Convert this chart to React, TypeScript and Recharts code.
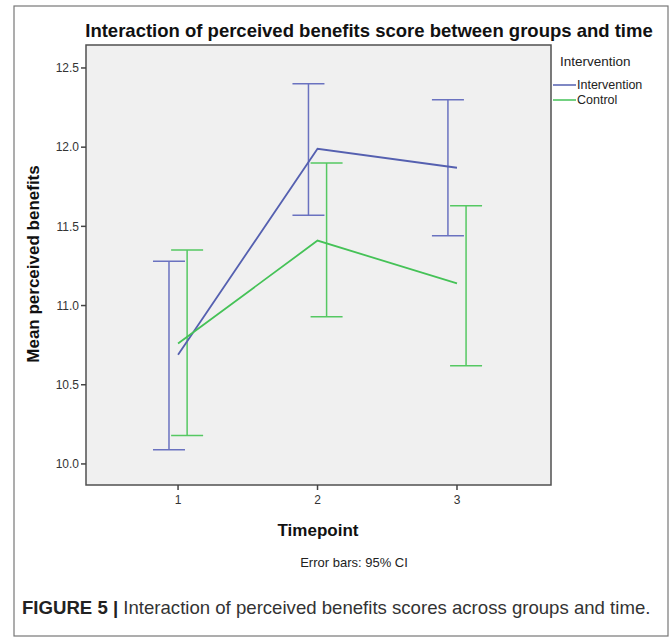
import React from 'react';
import { ComposedChart, Line, Scatter, ErrorBar, XAxis, YAxis, ReferenceArea } from 'recharts';

const timepoints = [1, 2, 3];
const interventionMean = [10.69, 11.99, 11.87];
const interventionLow = [10.09, 11.57, 11.44];
const interventionHigh = [11.28, 12.4, 12.3];
const controlMean = [10.76, 11.41, 11.14];
const controlLow = [10.18, 10.93, 10.62];
const controlHigh = [11.35, 11.9, 11.63];
const yTicks = [10, 10.5, 11, 11.5, 12, 12.5];

// SPSS draws the CI bars slightly to each side of the timepoint
const BAR_SHIFT = 0.065;
const X_DOMAIN = [0.34, 3.674];
const Y_DOMAIN = [9.867, 12.645];

const BLUE = '#5560b0';
const BLUE_BAR = '#6a72c0';
const GREEN = '#45c257';
const GREEN_BAR = '#55c862';
const FONT = '"Liberation Sans", Arial, sans-serif';

const lineData = (means: number[]) => timepoints.map((t, i) => ({ x: t, y: means[i] }));
const barData = (means: number[], lo: number[], hi: number[], shift: number) =>
  timepoints.map((t, i) => ({ x: t + shift, y: means[i], err: [means[i] - lo[i], hi[i] - means[i]] }));

const NoDot = () => <g />;

const App: React.FC = () => {
  return (
    <div style={{ position: 'absolute', left: 0, top: 0, width: 669, height: 639, background: '#fff', fontFamily: FONT }}>
      <ComposedChart width={669} height={639} margin={{ top: 45, right: 118, left: 36, bottom: 124 }}>
        <ReferenceArea
          x1={X_DOMAIN[0]}
          x2={X_DOMAIN[1]}
          y1={Y_DOMAIN[0]}
          y2={Y_DOMAIN[1]}
          fill="#f0f0f0"
          fillOpacity={1}
          stroke="#505050"
          strokeWidth={1.5}
          ifOverflow="visible"
        />
        <XAxis
          type="number"
          dataKey="x"
          domain={X_DOMAIN}
          ticks={timepoints}
          allowDataOverflow
          height={30}
          axisLine={false}
          tickSize={5}
          tickLine={{ stroke: '#444', strokeWidth: 1.5 }}
          tick={{ fill: '#333', fontSize: 12, fontFamily: FONT, dy: 3 }}
        />
        <YAxis
          type="number"
          dataKey="y"
          domain={Y_DOMAIN}
          ticks={yTicks}
          allowDataOverflow
          width={50}
          axisLine={false}
          tickSize={5}
          tickLine={{ stroke: '#444', strokeWidth: 1.5 }}
          tickFormatter={(v: number) => v.toFixed(1)}
          tick={{ fill: '#333', fontSize: 12, fontFamily: FONT }}
        />
        <Scatter
          data={barData(interventionMean, interventionLow, interventionHigh, -BAR_SHIFT)}
          dataKey="y"
          shape={NoDot}
          isAnimationActive={false}
        >
          <ErrorBar dataKey="err" direction="y" width={16} stroke={BLUE_BAR} strokeWidth={1.5} isAnimationActive={false} />
        </Scatter>
        <Scatter
          data={barData(controlMean, controlLow, controlHigh, BAR_SHIFT)}
          dataKey="y"
          shape={NoDot}
          isAnimationActive={false}
        >
          <ErrorBar dataKey="err" direction="y" width={16} stroke={GREEN_BAR} strokeWidth={1.5} isAnimationActive={false} />
        </Scatter>
        <Line
          data={lineData(interventionMean)}
          dataKey="y"
          type="linear"
          stroke={BLUE}
          strokeWidth={1.8}
          dot={false}
          activeDot={false}
          isAnimationActive={false}
        />
        <Line
          data={lineData(controlMean)}
          dataKey="y"
          type="linear"
          stroke={GREEN}
          strokeWidth={1.8}
          dot={false}
          activeDot={false}
          isAnimationActive={false}
        />
      </ComposedChart>
      <svg width={669} height={639} style={{ position: 'absolute', left: 0, top: 0, pointerEvents: 'none' }}>
        <rect x={14} y={6} width={654} height={630} fill="none" stroke="#777" strokeWidth={1.2} />
        <text x={369} y={37} textAnchor="middle" fontSize={18.5} fontWeight="bold" fill="#111" fontFamily={FONT}>
          Interaction of perceived benefits score between groups and time
        </text>
        <text x={560} y={66} fontSize={13.5} fill="#222" fontFamily={FONT}>Intervention</text>
        <line x1={553} x2={576} y1={85} y2={85} stroke={BLUE} strokeWidth={1.5} />
        <text x={577} y={89} fontSize={12.5} fill="#222" fontFamily={FONT}>Intervention</text>
        <line x1={553} x2={576} y1={100} y2={100} stroke={GREEN} strokeWidth={1.5} />
        <text x={577} y={104} fontSize={12.5} fill="#222" fontFamily={FONT}>Control</text>
        <text
          transform="translate(39,264) rotate(-90)"
          textAnchor="middle"
          fontSize={17}
          fontWeight="bold"
          fill="#111"
          fontFamily={FONT}
        >
          Mean perceived benefits
        </text>
        <text x={318} y={536} textAnchor="middle" fontSize={17} fontWeight="bold" fill="#111" fontFamily={FONT}>
          Timepoint
        </text>
        <text x={354} y={567} textAnchor="middle" fontSize={13} fill="#222" fontFamily={FONT}>
          Error bars: 95% CI
        </text>
        <text x={22} y={614} fontSize={18.6} fill="#333" fontFamily={FONT}>
          <tspan fontWeight="bold" fill="#222">FIGURE 5 |</tspan>
          <tspan> Interaction of perceived benefits scores across groups and time.</tspan>
        </text>
      </svg>
    </div>
  );
};

export default App;
